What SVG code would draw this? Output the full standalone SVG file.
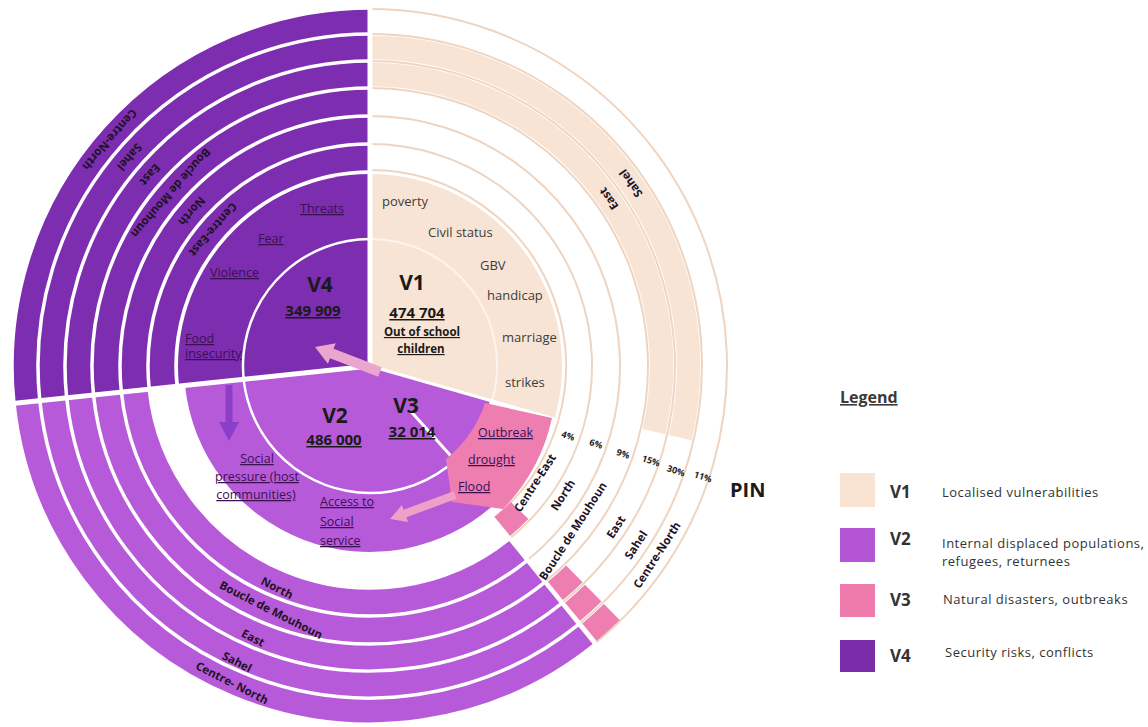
<svg xmlns="http://www.w3.org/2000/svg" width="1148" height="727" viewBox="0 0 1148 727">
<style>
text{font-family:"Open Sans",Lato,"Liberation Sans",sans-serif}
.v4f{fill:#7c2db0}.v2f{fill:#b65ad9}.v1f{fill:#f8e4d4}.v3f{fill:#ee7db0}
.r4{fill:none;stroke:#7c2db0}.r2{fill:none;stroke:#b65ad9}.r1{fill:none;stroke:#f8e4d4}.r3{fill:none;stroke:#ee7db0}
.w1{stroke-width:24.5}.w2{stroke-width:23.5}.w3{stroke-width:22.5}
.ol{fill:none;stroke:#efd5c1;stroke-width:2}
.sep{stroke:#fff;fill:none}
.big{font-weight:700;font-size:21px;text-anchor:middle;fill:#1a1a1a}
.num{font-weight:700;font-size:15px;text-anchor:middle;text-decoration:underline;fill:#1a1a1a}
.sub{font-weight:700;font-size:11.5px;text-anchor:middle;text-decoration:underline;fill:#1a1a1a}
.it{font-size:12.5px;fill:#3b1152;text-decoration:underline}
.fac{font-size:13px;fill:#3d3d3d}
.rl{font-size:11.5px;font-weight:700;fill:#1e1226;text-anchor:middle}
.pc{font-size:9px;font-weight:700;fill:#222;text-anchor:middle}
.lg{font-size:13px;fill:#333;letter-spacing:0.5px}
.lv{font-size:17px;font-weight:700;fill:#333}
</style>
<rect width="1148" height="727" fill="#fff"/>

<g id="v4">
<path class="v4f" d="M370,366 L179.05,386.07 A192,192 0 0 1 370,174 Z"/>
<path class="r4 w1" d="M163.14,387.74 A208,208 0 0 1 370,158"/>
<path class="r4 w1" d="M135.29,390.67 A236,236 0 0 1 370,130"/>
<path class="r4 w1" d="M107.45,393.6 A264,264 0 0 1 370,102"/>
<path class="r4 w2" d="M80.1,396.47 A291.5,291.5 0 0 1 370,74.5"/>
<path class="r4 w2" d="M53.25,399.29 A318.5,318.5 0 0 1 370,47.5"/>
<path class="r4 w3" d="M26.89,402.06 A345,345 0 0 1 370,21"/>
</g>

<g id="v1">
<path class="v1f" d="M370,366 L370,174 A192,192 0 0 1 554.56,418.92 Z"/>
<path class="ol" d="M370,170 A196,196 0 0 1 493.35,518.32"/>
<path class="ol" d="M370,144 A222,222 0 0 1 509.71,538.53"/>
<path class="ol" d="M370,116 A250,250 0 0 1 527.33,560.29"/>
<path class="ol" d="M370,88 A278,278 0 0 1 544.95,582.05"/>
<path class="ol" d="M370,61 A305,305 0 0 1 561.94,603.03"/>
<path class="ol" d="M370,34 A332,332 0 0 1 578.93,624.01"/>
<path class="ol" d="M370,9 A357,357 0 0 1 594.67,643.44"/>
<path class="r1 w2" d="M370,74.5 A291.5,291.5 0 0 1 654.03,431.57"/>
<path class="r1 w2" d="M370,47.5 A318.5,318.5 0 0 1 680.34,437.65"/>
</g>

<g id="v2">
<path class="v2f" d="M370,366 L494.46,504.22 A186,186 0 0 1 185.02,385.44 Z"/>
<path class="v2f" d="M370,366 L490.16,400.46 A125,125 0 0 1 245.69,379.07 Z"/>
<path class="r2 w1" d="M518.52,549.41 A236,236 0 0 1 135.29,390.67"/>
<path class="r2 w1" d="M536.14,571.17 A264,264 0 0 1 107.45,393.6"/>
<path class="r2 w2" d="M553.45,592.54 A291.5,291.5 0 0 1 80.1,396.47"/>
<path class="r2 w2" d="M570.44,613.52 A318.5,318.5 0 0 1 53.25,399.29"/>
<path class="r2 w3" d="M587.12,634.12 A345,345 0 0 1 26.89,402.06"/>
</g>

<g id="separators">
<path class="sep" stroke-width="2.5" d="M492.08,401.01 A127,127 0 1 1 370,239"/>
<path class="sep" stroke-width="2" stroke-opacity="0.6" d="M370,239 A127,127 0 0 1 492.08,401.01"/>
<line class="sep" stroke-width="5" x1="370" y1="366" x2="370" y2="4"/>
<line class="sep" stroke-width="5" x1="370" y1="366" x2="8" y2="404.05"/>
<line class="sep" stroke-width="3" x1="370" y1="366" x2="554.56" y2="418.92"/>
<line class="sep" stroke-width="4" x1="489.57" y1="513.66" x2="597.81" y2="647.33"/>
<line class="sep" stroke-width="3" x1="410.1" y1="410.6" x2="451.6" y2="456.7"/>
</g>

<g id="v3">
<path class="v3f" d="M485,403 L552,418 A188,188 0 0 1 503,509 L452,502 L446,459 A121,121 0 0 0 485,403 Z"/>
<path class="r3 w1" d="M519.62,510.49 A208,208 0 0 1 502.3,526.5"/>
<path class="r3 w2" d="M574.32,573.91 A291.5,291.5 0 0 1 555.42,590.93"/>
<path class="r3 w2" d="M593.24,593.17 A318.5,318.5 0 0 1 572.59,611.76"/>
<path class="r3 w3" d="M611.81,612.07 A345,345 0 0 1 589.45,632.21"/>
</g>

<g id="v4-text">
<text class="big" x="320" y="292">V4</text>
<text class="num" x="313" y="316" fill="#24082f">349 909</text>
<text class="it" x="300" y="213">Threats</text>
<text class="it" x="258" y="243">Fear</text>
<text class="it" x="210" y="277">Violence</text>
<text class="it" x="185" y="343">Food</text>
<text class="it" x="185" y="358">insecurity</text>
<text class="rl" transform="translate(109.6,139.7) rotate(131)" y="4">Centre-North</text>
<text class="rl" transform="translate(129.6,157) rotate(131)" y="4">Sahel</text>
<text class="rl" transform="translate(150,174.7) rotate(131)" y="4">East</text>
<text class="rl" transform="translate(170.8,192.8) rotate(131)" y="4">Boucle de Mouhoun</text>
<text class="rl" transform="translate(191.9,211.2) rotate(131)" y="4">North</text>
<text class="rl" transform="translate(213,229.5) rotate(131)" y="4">Centre-East</text>
</g>

<g id="v1-text">
<text class="big" x="412" y="290">V1</text>
<text class="num" x="417" y="318">474 704</text>
<text class="sub" x="422" y="336">Out of school</text>
<text class="sub" x="421" y="353">children</text>
<text class="fac" x="382" y="206">poverty</text>
<text class="fac" x="428" y="237">Civil status</text>
<text class="fac" x="480" y="270">GBV</text>
<text class="fac" x="487" y="300">handicap</text>
<text class="fac" x="502" y="342">marriage</text>
<text class="fac" x="505" y="387">strikes</text>
<text class="rl" transform="translate(630.9,183.3) rotate(-125)" y="4">Sahel</text>
<text class="rl" transform="translate(608.8,198.8) rotate(-125)" y="4">East</text>
</g>

<g id="v2-text">
<text class="big" x="335" y="423">V2</text>
<text class="num" x="334" y="445" fill="#24082f">486 000</text>
<text class="it" x="257" y="463" text-anchor="middle">Social</text>
<text class="it" x="257" y="481" text-anchor="middle">pressure (host</text>
<text class="it" x="256" y="499" text-anchor="middle">communities)</text>
<text class="it" x="320" y="506">Access to</text>
<text class="it" x="320" y="526">Social</text>
<text class="it" x="320" y="545">service</text>
<text class="rl" transform="translate(277,588) rotate(27)" y="4">North</text>
<text class="rl" transform="translate(271,610) rotate(27)" y="4">Boucle de Mouhoun</text>
<text class="rl" transform="translate(253,638) rotate(27)" y="4">East</text>
<text class="rl" transform="translate(237,662) rotate(27)" y="4">Sahel</text>
<text class="rl" transform="translate(232,683) rotate(27)" y="4">Centre- North</text>
</g>

<g id="v3-text">
<text class="big" x="406" y="413" fill="#2a0a30">V3</text>
<text class="num" x="412" y="437" fill="#2a0a30">32 014</text>
<text class="it" x="478" y="437" fill="#4a1030">Outbreak</text>
<text class="it" x="468" y="464" fill="#4a1030">drought</text>
<text class="it" x="458" y="491" fill="#4a1030">Flood</text>
</g>

<g id="ring-labels">
<text class="rl" transform="translate(535,483) rotate(-57)" y="4">Centre-East</text>
<text class="rl" transform="translate(563,495) rotate(-57)" y="4">North</text>
<text class="rl" transform="translate(573,531) rotate(-57)" y="4">Boucle de Mouhoun</text>
<text class="rl" transform="translate(616,527) rotate(-57)" y="4">East</text>
<text class="rl" transform="translate(636,545) rotate(-57)" y="4">Sahel</text>
<text class="rl" transform="translate(657,555) rotate(-57)" y="4">Centre-North</text>
<text class="pc" transform="translate(568,436) rotate(18)" y="3">4%</text>
<text class="pc" transform="translate(596,444) rotate(18)" y="3">6%</text>
<text class="pc" transform="translate(623,454) rotate(18)" y="3">9%</text>
<text class="pc" transform="translate(651,461) rotate(18)" y="3">15%</text>
<text class="pc" transform="translate(676,471) rotate(18)" y="3">30%</text>
<text class="pc" transform="translate(703,477) rotate(18)" y="3">11%</text>
<text x="730" y="497" font-size="20" font-weight="700" fill="#1a1a1a">PIN</text>
</g>

<g id="connectors">
<polygon fill="#eba6d0" points="381.8,367.3 333.6,348.8 335.7,343.2 315,347 327.9,363.8 330,358.2 378.2,376.7"/>
<polygon fill="#8b3fc8" points="225.5,385 232.5,385 232.5,422 239,422 229,441 219,422 225.5,422"/>
<polygon fill="#f0a0c8" points="453.6,491.2 403.6,509.7 401.9,505.1 390,519 408.1,521.9 406.4,517.3 456.4,498.8"/>
</g>

<g id="legend">
<text x="840" y="403" font-size="16" font-weight="700" fill="#3a3a3a" text-decoration="underline">Legend</text>
<rect x="840" y="473" width="35" height="34" fill="#f9e3d3"/>
<rect x="840" y="528" width="35" height="34" fill="#b455d6"/>
<rect x="840" y="584" width="35" height="33" fill="#ef7aac"/>
<rect x="840" y="640" width="35" height="32" fill="#7a2ca9"/>
<text class="lv" x="890" y="498">V1</text>
<text class="lv" x="890" y="545">V2</text>
<text class="lv" x="890" y="606">V3</text>
<text class="lv" x="890" y="662">V4</text>
<text class="lg" x="942" y="497">Localised vulnerabilities</text>
<text class="lg" x="942" y="548">Internal displaced populations,</text>
<text class="lg" x="942" y="566">refugees, returnees</text>
<text class="lg" x="943" y="604">Natural disasters, outbreaks</text>
<text class="lg" x="945" y="657">Security risks, conflicts</text>
</g>
</svg>
